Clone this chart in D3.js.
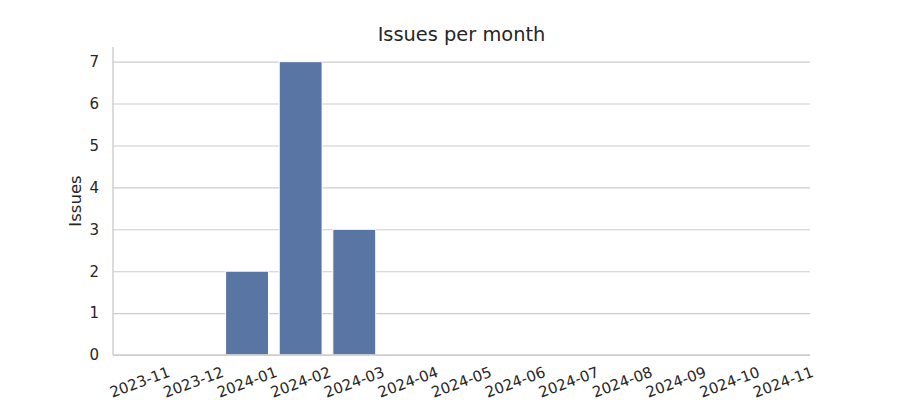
<!DOCTYPE html>
<html>
<head>
<meta charset="utf-8">
<script src="https://cdn.jsdelivr.net/npm/d3@7"></script>
<style>
  body { margin: 0; background: #fff; }
  text { font-family: "DejaVu Sans", sans-serif; fill: #262626; }
</style>
</head>
<body>
<script>
// Data
var months = ["2023-11", "2023-12", "2024-01", "2024-02", "2024-03", "2024-04",
	"2024-05", "2024-06", "2024-07", "2024-08", "2024-09", "2024-10", "2024-11"];
var issues = [0, 0, 2, 7, 3, 0, 0, 0, 0, 0, 0, 0, 0];
var yTicks = [0, 1, 2, 3, 4, 5, 6, 7];

var data = months.map(function(m, i) { return {month: m, issues: issues[i]}; });

// Chart config
var width = 900, height = 400;
var margin = {top: 47, right: 90, bottom: 45, left: 113};
var innerW = width - margin.left - margin.right,
	innerH = height - margin.top - margin.bottom;

var svg = d3.select("body").append("svg")
	.attr("width", width)
	.attr("height", height);

// band layout like matplotlib: limits -0.5..n-0.5, bar width 0.8
var xScale = d3.scaleBand().domain(months).range([0, innerW])
	.paddingInner(0.2).paddingOuter(0.1);
var yMax = d3.max(issues) * 1.05;
var yScale = d3.scaleLinear().domain([0, yMax]).range([innerH, 0]);

var g = svg.append("g")
	.attr("transform", "translate(" + margin.left + "," + margin.top + ")");

// grid
var yAxis = d3.axisLeft(yScale).tickValues(yTicks).tickSize(-innerW).tickPadding(14).tickFormat(d3.format("d"));
var yAxisEl = g.append("g").call(yAxis);
yAxisEl.select(".domain").remove();
yAxisEl.selectAll("line").attr("stroke", "#cccccc").attr("stroke-width", 1.1);
yAxisEl.selectAll("text").style("font-size", "15px").attr("fill", "#262626");

// bars
g.selectAll("rect.bar").data(data).enter().append("rect")
	.attr("class", "bar")
	.attr("x", function(d) { return xScale(d.month); })
	.attr("width", xScale.bandwidth())
	.attr("y", function(d) { return yScale(d.issues); })
	.attr("height", function(d) { return innerH - yScale(d.issues); })
	.attr("fill", "#5975a4")
	.attr("stroke", "#ffffff")
	.attr("stroke-width", 1);

// spines (left and bottom)
g.append("line").attr("x1", 0).attr("x2", 0).attr("y1", 0).attr("y2", innerH)
	.attr("stroke", "#cccccc").attr("stroke-width", 1.4);
g.append("line").attr("x1", 0).attr("x2", innerW).attr("y1", innerH).attr("y2", innerH)
	.attr("stroke", "#cccccc").attr("stroke-width", 1.4);

// x tick labels, rotated 20deg (kept just inside the bottom edge)
g.selectAll("text.xlab").data(months).enter().append("text")
	.attr("class", "xlab")
	.attr("transform", function(d) {
		return "translate(" + (xScale(d) + xScale.bandwidth() / 2) + "," + (innerH + 27) + ") rotate(-20)";
	})
	.attr("text-anchor", "middle")
	.attr("dy", "0.35em")
	.style("font-size", "15px")
	.text(function(d) { return d; });

// y label
svg.append("text")
	.attr("transform", "translate(81," + (margin.top + innerH / 2) + ") rotate(-90)")
	.attr("text-anchor", "middle")
	.style("font-size", "16.5px")
	.text("Issues");

// title
svg.append("text")
	.attr("x", margin.left + innerW / 2)
	.attr("y", 41)
	.attr("text-anchor", "middle")
	.style("font-size", "19.4px")
	.text("Issues per month");
</script>
</body>
</html>
